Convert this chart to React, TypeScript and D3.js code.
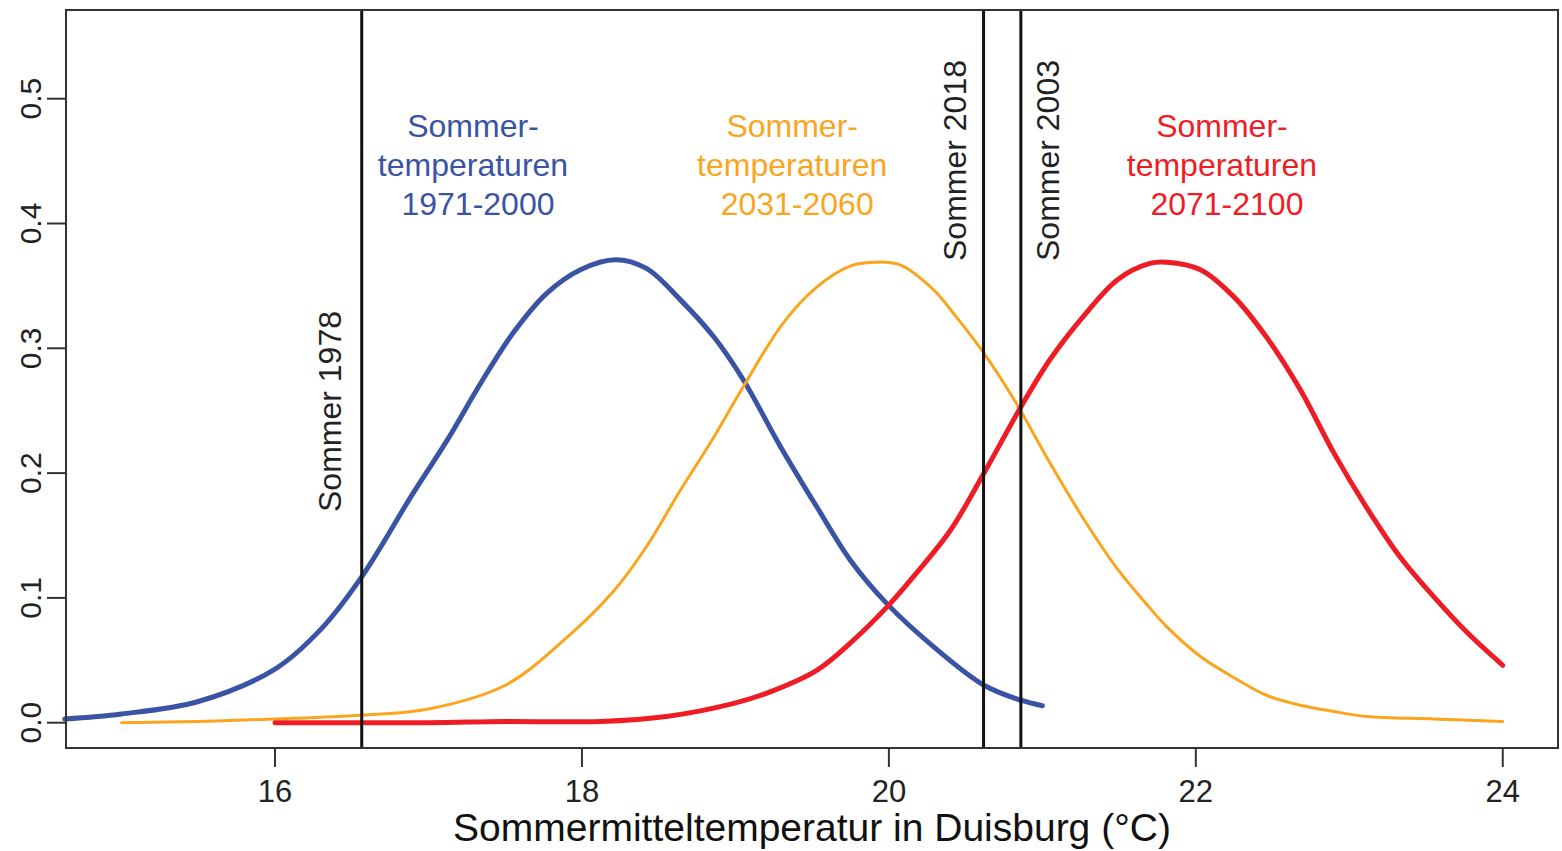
import React from "react";
import * as d3 from "d3";

// Temperature (°C) / density pairs
const blueTemps = [14.63, 15.0, 15.5, 16.0, 16.3, 16.56, 16.9, 17.12, 17.34, 17.55, 17.77, 17.99, 18.22, 18.42, 18.64, 18.86, 19.05, 19.29, 19.53, 19.75, 19.99, 20.29, 20.62, 20.86, 21.0];
const blueDens = [0.003, 0.007, 0.017, 0.043, 0.075, 0.116, 0.184, 0.226, 0.272, 0.312, 0.344, 0.363, 0.371, 0.364, 0.339, 0.309, 0.275, 0.222, 0.173, 0.13, 0.095, 0.061, 0.03, 0.018, 0.0136];

const orangeTemps = [15.0, 15.5, 16.0, 16.56, 17.0, 17.5, 17.88, 18.21, 18.42, 18.64, 18.86, 19.05, 19.31, 19.53, 19.75, 19.9, 20.07, 20.29, 20.44, 20.62, 20.83, 21.05, 21.27, 21.49, 21.7, 21.81, 22.03, 22.25, 22.46, 22.68, 22.9, 23.11, 23.55, 24.0];
const orangeDens = [0.0, 0.001, 0.003, 0.006, 0.011, 0.03, 0.066, 0.106, 0.141, 0.186, 0.229, 0.269, 0.32, 0.349, 0.366, 0.369, 0.367, 0.347, 0.325, 0.296, 0.256, 0.208, 0.163, 0.123, 0.092, 0.077, 0.053, 0.036, 0.022, 0.014, 0.009, 0.005, 0.003, 0.001];

const redTemps = [16.0, 17.0, 17.5, 18.12, 18.55, 18.99, 19.2, 19.53, 19.75, 19.99, 20.18, 20.4, 20.62, 20.86, 21.05, 21.27, 21.49, 21.7, 21.81, 22.03, 22.25, 22.46, 22.68, 22.9, 23.11, 23.33, 23.55, 23.77, 24.0];
const redDens = [0.0, 0.0, 0.001, 0.001, 0.005, 0.0155, 0.0235, 0.042, 0.064, 0.093, 0.12, 0.154, 0.2, 0.253, 0.291, 0.326, 0.355, 0.368, 0.369, 0.363, 0.341, 0.309, 0.267, 0.216, 0.173, 0.133, 0.101, 0.072, 0.046];

const xTicks = [16, 18, 20, 22, 24];
const yTicks = [0, 0.1, 0.2, 0.3, 0.4, 0.5];

const summerYears = ["Sommer 1978", "Sommer 2018", "Sommer 2003"];
const summerTemps = [16.565, 20.617, 20.86];

const periodNames = ["1971-2000", "2031-2060", "2071-2100"];
const periodLabelTemps = [17.29, 19.37, 22.17];

const W = 1562;
const H = 851;
const plot = { left: 66, right: 1558, top: 10, bottom: 748 };
const font = "'Liberation Sans', Arial, Helvetica, sans-serif";

const colors = ["#3a53a4", "#fba51e", "#ee1c24"];
const widths = [5, 3, 5];
// baseline x offset of rotated summer labels relative to their line
const summerLabelDx = [-21, -18, 38];
const summerLabelStartY = [512, 261, 261];

const App = () => {
  const x = d3.scaleLinear().domain([14.638, 24.36]).range([plot.left, plot.right]);
  const y = d3.scaleLinear().domain([0, 0.5]).range([722.7, 98.7]);

  const line = d3
    .line<[number, number]>()
    .x((d) => x(d[0]))
    .y((d) => y(d[1]))
    .curve(d3.curveCatmullRom.alpha(0.5));

  const series = [
    d3.zip(blueTemps, blueDens) as [number, number][],
    d3.zip(orangeTemps, orangeDens) as [number, number][],
    d3.zip(redTemps, redDens) as [number, number][],
  ];

  return (
    <svg width={W} height={H} style={{ position: "absolute", left: 0, top: 0, background: "#fff" }} fontFamily={font}>
      {series.map((s, i) => (
        <path key={i} d={line(s) || ""} fill="none" stroke={colors[i]} strokeWidth={widths[i]} strokeLinejoin="round" strokeLinecap="round" />
      ))}

      {summerTemps.map((t, i) => (
        <g key={i}>
          <line x1={x(t)} x2={x(t)} y1={plot.top} y2={plot.bottom} stroke="#111" strokeWidth={3} />
          <text
            transform={`translate(${x(t) + summerLabelDx[i]},${summerLabelStartY[i]}) rotate(-90)`}
            fontSize={32}
            fill="#222"
          >
            {summerYears[i]}
          </text>
        </g>
      ))}

      {periodNames.map((p, i) => (
        <text key={i} x={x(periodLabelTemps[i])} fill={colors[i]} fontSize={32} textAnchor="middle">
          <tspan x={x(periodLabelTemps[i])} y={137}>Sommer-</tspan>
          <tspan x={x(periodLabelTemps[i])} y={176}>temperaturen</tspan>
          <tspan x={x(periodLabelTemps[i]) + 5} y={215}>{p}</tspan>
        </text>
      ))}

      <rect x={plot.left} y={plot.top} width={plot.right - plot.left} height={plot.bottom - plot.top} fill="none" stroke="#333" strokeWidth={2} />

      {xTicks.map((t) => (
        <g key={t}>
          <line x1={x(t)} x2={x(t)} y1={plot.bottom} y2={plot.bottom + 19} stroke="#333" strokeWidth={2} />
          <text x={x(t)} y={802} fontSize={31} textAnchor="middle" fill="#222">
            {t}
          </text>
        </g>
      ))}

      {yTicks.map((t) => (
        <g key={t}>
          <line x1={plot.left - 19} x2={plot.left} y1={y(t)} y2={y(t)} stroke="#333" strokeWidth={2} />
          <text transform={`translate(41,${y(t)}) rotate(-90)`} fontSize={30} textAnchor="middle" fill="#222">
            {d3.format(".1f")(t)}
          </text>
        </g>
      ))}

      <text x={812} y={841} fontSize={39} textAnchor="middle" fill="#111">
        Sommermitteltemperatur in Duisburg (°C)
      </text>
    </svg>
  );
};

export default App;
